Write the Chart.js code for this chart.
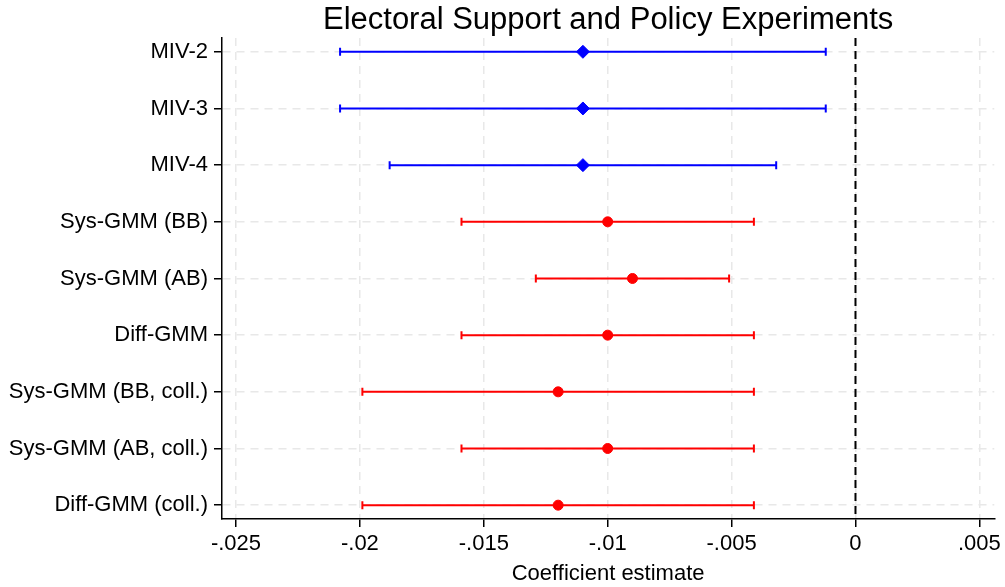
<!DOCTYPE html>
<html>
<head>
<meta charset="utf-8">
<script src="https://cdn.jsdelivr.net/npm/chart.js@4/dist/chart.umd.min.js"></script>
<style>
  html, body { margin: 0; padding: 0; background: #fff; }
  #wrap { width: 1005px; height: 587px; position: relative; }
</style>
</head>
<body>
<div id="wrap"><canvas id="coefChart"></canvas></div>
<script>
// Coefficient plot data
const models = ['MIV-2', 'MIV-3', 'MIV-4', 'Sys-GMM (BB)', 'Sys-GMM (AB)', 'Diff-GMM',
  'Sys-GMM (BB, coll.)', 'Sys-GMM (AB, coll.)', 'Diff-GMM (coll.)'];
const groups = ['MIV', 'MIV', 'MIV', 'GMM', 'GMM', 'GMM', 'GMM', 'GMM', 'GMM'];
const estimates = [-0.011, -0.011, -0.011, -0.010, -0.009, -0.010, -0.012, -0.010, -0.012];
const lowerCI = [-0.0208, -0.0208, -0.0188, -0.0159, -0.0129, -0.0159, -0.0199, -0.0159, -0.0199];
const upperCI = [-0.0012, -0.0012, -0.0032, -0.0041, -0.0051, -0.0041, -0.0041, -0.0041, -0.0041];
const xTicks = [-0.025, -0.02, -0.015, -0.01, -0.005, 0, 0.005];
const xTickLabels = ['-.025', '-.02', '-.015', '-.01', '-.005', '0', '.005'];

const groupColor = { MIV: '#0000ff', GMM: '#ff0000' };
const groupMarker = { MIV: 'rectRot', GMM: 'circle' };
const FONT = 'Liberation Sans, Arial, Helvetica, sans-serif';

// draws the confidence intervals and the zero reference line
const ciPlugin = {
  id: 'ciBars',
  beforeDatasetsDraw(chart) {
    const ctx = chart.ctx;
    const xs = chart.scales.x, ys = chart.scales.y;
    const area = chart.chartArea;

    // zero line
    ctx.save();
    ctx.strokeStyle = '#000';
    ctx.lineWidth = 2;
    ctx.setLineDash([8, 5]);
    const x0 = xs.getPixelForValue(0);
    ctx.beginPath();
    ctx.moveTo(x0, area.top);
    ctx.lineTo(x0, area.bottom);
    ctx.stroke();
    ctx.restore();

    ctx.save();
    ctx.lineWidth = 2;
    models.forEach((m, i) => {
      const y = ys.getPixelForValue(i + 1);
      const xl = xs.getPixelForValue(lowerCI[i]);
      const xh = xs.getPixelForValue(upperCI[i]);
      ctx.strokeStyle = groupColor[groups[i]];
      ctx.beginPath();
      ctx.moveTo(xl, y); ctx.lineTo(xh, y);
      ctx.moveTo(xl, y - 4); ctx.lineTo(xl, y + 4);
      ctx.moveTo(xh, y - 4); ctx.lineTo(xh, y + 4);
      ctx.stroke();
    });
    ctx.restore();
  }
};

new Chart(document.getElementById('coefChart'), {
  type: 'scatter',
  data: {
    datasets: [{
      data: estimates.map((v, i) => ({ x: v, y: i + 1 })),
      pointStyle: ctx => groupMarker[groups[ctx.dataIndex]],
      pointRadius: ctx => groups[ctx.dataIndex] === 'MIV' ? 6.5 : 5,
      backgroundColor: ctx => groupColor[groups[ctx.dataIndex]],
      borderColor: ctx => groupColor[groups[ctx.dataIndex]],
      borderWidth: 1
    }]
  },
  options: {
    responsive: true,
    maintainAspectRatio: false,
    animation: false,
    layout: { padding: { left: 0, right: 10, top: 0, bottom: 0 } },
    plugins: {
      legend: { display: false },
      tooltip: { enabled: false },
      title: {
        display: true,
        fullSize: false,
        align: 'center',
        text: 'Electoral Support and Policy Experiments',
        color: '#000',
        font: { family: FONT, size: 31, weight: 'normal', lineHeight: 1.16 },
        padding: { top: 2, bottom: 0 }
      }
    },
    scales: {
      x: {
        type: 'linear',
        min: -0.025565,
        max: 0.0056,
        afterBuildTicks: scale => { scale.ticks = xTicks.map(v => ({ value: v })); },
        afterFit: scale => { scale.height = 68; },
        ticks: {
          color: '#000',
          font: { family: FONT, size: 22 },
          padding: 4,
          maxRotation: 0,
          callback: (v, i) => xTickLabels[i]
        },
        grid: {
          color: '#e8e8e8',
          lineWidth: 1.5,
          tickColor: '#000',
          tickWidth: 1.5,
          tickLength: 8
        },
        border: { display: true, color: '#000', width: 1.5, dash: [8, 6] },
        title: {
          display: true,
          text: 'Coefficient estimate',
          color: '#000',
          font: { family: FONT, size: 22 },
          padding: { top: 0, bottom: 0 }
        }
      },
      y: {
        type: 'linear',
        reverse: true,
        min: 0.756,
        max: 9.244,
        afterBuildTicks: scale => { scale.ticks = models.map((m, i) => ({ value: i + 1 })); },
        afterFit: scale => { scale.width = 222; },
        ticks: {
          color: '#000',
          font: { family: FONT, size: 22 },
          padding: 6,
          callback: v => models[v - 1]
        },
        grid: {
          color: '#e8e8e8',
          lineWidth: 1.5,
          tickColor: '#000',
          tickWidth: 1.5,
          tickLength: 8
        },
        border: { display: true, color: '#000', width: 1.5, dash: [8, 6] }
      }
    }
  },
  plugins: [ciPlugin]
});
</script>
</body>
</html>
